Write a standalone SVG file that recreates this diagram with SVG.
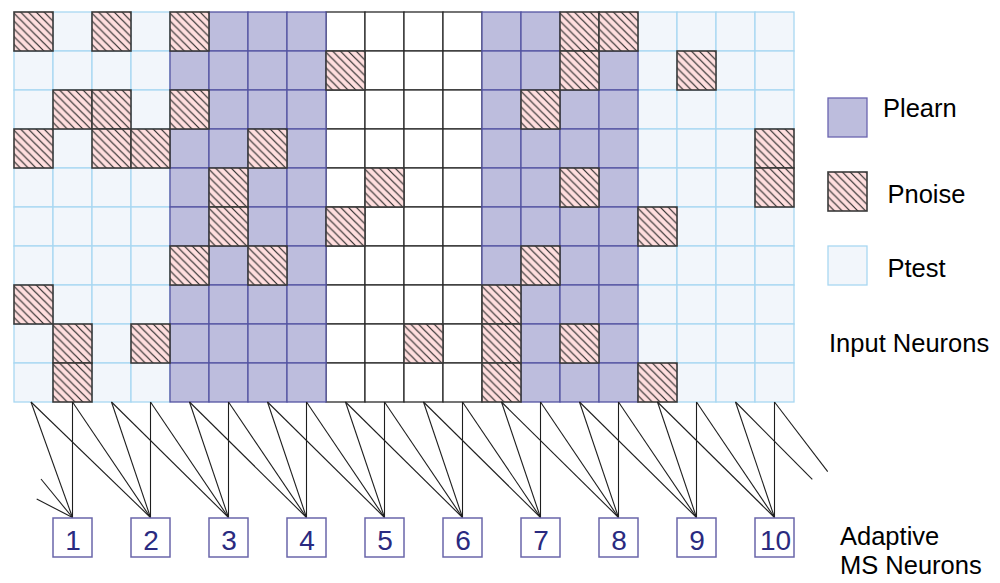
<svg xmlns="http://www.w3.org/2000/svg" xmlns:xlink="http://www.w3.org/1999/xlink" width="1000" height="583" viewBox="0 0 1000 583">
<defs>
<pattern id="hatch" patternUnits="objectBoundingBox" x="-0.033" y="0" width="0.2" height="0.2" patternContentUnits="userSpaceOnUse">
<rect x="0" y="0" width="7.8" height="7.8" fill="#ffdede"/>
<path d="M0,0 L7.8,7.8 M-1,6.8 L1,8.8 M6.8,-1 L8.8,1" stroke="#2a2a2a" stroke-width="1.2" fill="none"/>
</pattern>
</defs>
<style>
text{font-family:"Liberation Sans",Arial,sans-serif;}
.t{fill:#f2f6fb;stroke:#a8d8f2;stroke-width:1.3;}
.w{fill:#ffffff;stroke:#2a2a2a;stroke-width:1.3;}
.l{fill:#bdbddd;stroke:#5454a2;stroke-width:1.3;}
.n{fill:url(#hatch);stroke:#3a3a3a;stroke-width:1.6;}
.c line{stroke:#1e1e1e;stroke-width:1.1;}
.box{fill:#ffffff;stroke:#6a66aa;stroke-width:1.5;}
.num{font-size:28px;fill:#2a2a80;text-anchor:middle;}
.lab{font-size:25.5px;fill:#000;}
</style>
<rect width="1000" height="583" fill="#ffffff"/>
<g id="input-grid">
<g id="ptest-cells">
<rect class="t" x="53" y="12" width="39" height="39"/><rect class="t" x="131" y="12" width="39" height="39"/>
<rect class="t" x="638" y="12" width="39" height="39"/><rect class="t" x="677" y="12" width="39" height="39"/><rect class="t" x="716" y="12" width="39" height="39"/><rect class="t" x="755" y="12" width="39" height="39"/>
<rect class="t" x="14" y="51" width="39" height="39"/><rect class="t" x="53" y="51" width="39" height="39"/><rect class="t" x="92" y="51" width="39" height="39"/><rect class="t" x="131" y="51" width="39" height="39"/>
<rect class="t" x="638" y="51" width="39" height="39"/><rect class="t" x="716" y="51" width="39" height="39"/><rect class="t" x="755" y="51" width="39" height="39"/>
<rect class="t" x="14" y="90" width="39" height="39"/><rect class="t" x="131" y="90" width="39" height="39"/>
<rect class="t" x="638" y="90" width="39" height="39"/><rect class="t" x="677" y="90" width="39" height="39"/><rect class="t" x="716" y="90" width="39" height="39"/><rect class="t" x="755" y="90" width="39" height="39"/>
<rect class="t" x="53" y="129" width="39" height="39"/>
<rect class="t" x="638" y="129" width="39" height="39"/><rect class="t" x="677" y="129" width="39" height="39"/><rect class="t" x="716" y="129" width="39" height="39"/>
<rect class="t" x="14" y="168" width="39" height="39"/><rect class="t" x="53" y="168" width="39" height="39"/><rect class="t" x="92" y="168" width="39" height="39"/><rect class="t" x="131" y="168" width="39" height="39"/>
<rect class="t" x="638" y="168" width="39" height="39"/><rect class="t" x="677" y="168" width="39" height="39"/><rect class="t" x="716" y="168" width="39" height="39"/>
<rect class="t" x="14" y="207" width="39" height="39"/><rect class="t" x="53" y="207" width="39" height="39"/><rect class="t" x="92" y="207" width="39" height="39"/><rect class="t" x="131" y="207" width="39" height="39"/>
<rect class="t" x="677" y="207" width="39" height="39"/><rect class="t" x="716" y="207" width="39" height="39"/><rect class="t" x="755" y="207" width="39" height="39"/>
<rect class="t" x="14" y="246" width="39" height="39"/><rect class="t" x="53" y="246" width="39" height="39"/><rect class="t" x="92" y="246" width="39" height="39"/><rect class="t" x="131" y="246" width="39" height="39"/>
<rect class="t" x="638" y="246" width="39" height="39"/><rect class="t" x="677" y="246" width="39" height="39"/><rect class="t" x="716" y="246" width="39" height="39"/><rect class="t" x="755" y="246" width="39" height="39"/>
<rect class="t" x="53" y="285" width="39" height="39"/><rect class="t" x="92" y="285" width="39" height="39"/><rect class="t" x="131" y="285" width="39" height="39"/>
<rect class="t" x="638" y="285" width="39" height="39"/><rect class="t" x="677" y="285" width="39" height="39"/><rect class="t" x="716" y="285" width="39" height="39"/><rect class="t" x="755" y="285" width="39" height="39"/>
<rect class="t" x="14" y="324" width="39" height="39"/><rect class="t" x="92" y="324" width="39" height="39"/>
<rect class="t" x="638" y="324" width="39" height="39"/><rect class="t" x="677" y="324" width="39" height="39"/><rect class="t" x="716" y="324" width="39" height="39"/><rect class="t" x="755" y="324" width="39" height="39"/>
<rect class="t" x="14" y="363" width="39" height="39"/><rect class="t" x="92" y="363" width="39" height="39"/><rect class="t" x="131" y="363" width="39" height="39"/>
<rect class="t" x="677" y="363" width="39" height="39"/><rect class="t" x="716" y="363" width="39" height="39"/><rect class="t" x="755" y="363" width="39" height="39"/>
</g>
<g id="blank-cells">
<rect class="w" x="326" y="12" width="39" height="39"/><rect class="w" x="365" y="12" width="39" height="39"/><rect class="w" x="404" y="12" width="39" height="39"/><rect class="w" x="443" y="12" width="39" height="39"/>
<rect class="w" x="365" y="51" width="39" height="39"/><rect class="w" x="404" y="51" width="39" height="39"/><rect class="w" x="443" y="51" width="39" height="39"/>
<rect class="w" x="326" y="90" width="39" height="39"/><rect class="w" x="365" y="90" width="39" height="39"/><rect class="w" x="404" y="90" width="39" height="39"/><rect class="w" x="443" y="90" width="39" height="39"/>
<rect class="w" x="326" y="129" width="39" height="39"/><rect class="w" x="365" y="129" width="39" height="39"/><rect class="w" x="404" y="129" width="39" height="39"/><rect class="w" x="443" y="129" width="39" height="39"/>
<rect class="w" x="326" y="168" width="39" height="39"/><rect class="w" x="404" y="168" width="39" height="39"/><rect class="w" x="443" y="168" width="39" height="39"/>
<rect class="w" x="365" y="207" width="39" height="39"/><rect class="w" x="404" y="207" width="39" height="39"/><rect class="w" x="443" y="207" width="39" height="39"/>
<rect class="w" x="326" y="246" width="39" height="39"/><rect class="w" x="365" y="246" width="39" height="39"/><rect class="w" x="404" y="246" width="39" height="39"/><rect class="w" x="443" y="246" width="39" height="39"/>
<rect class="w" x="326" y="285" width="39" height="39"/><rect class="w" x="365" y="285" width="39" height="39"/><rect class="w" x="404" y="285" width="39" height="39"/><rect class="w" x="443" y="285" width="39" height="39"/>
<rect class="w" x="326" y="324" width="39" height="39"/><rect class="w" x="365" y="324" width="39" height="39"/><rect class="w" x="443" y="324" width="39" height="39"/>
<rect class="w" x="326" y="363" width="39" height="39"/><rect class="w" x="365" y="363" width="39" height="39"/><rect class="w" x="404" y="363" width="39" height="39"/><rect class="w" x="443" y="363" width="39" height="39"/>
</g>
<g id="plearn-cells">
<rect class="l" x="209" y="12" width="39" height="39"/><rect class="l" x="248" y="12" width="39" height="39"/><rect class="l" x="287" y="12" width="39" height="39"/>
<rect class="l" x="482" y="12" width="39" height="39"/><rect class="l" x="521" y="12" width="39" height="39"/>
<rect class="l" x="170" y="51" width="39" height="39"/><rect class="l" x="209" y="51" width="39" height="39"/><rect class="l" x="248" y="51" width="39" height="39"/><rect class="l" x="287" y="51" width="39" height="39"/>
<rect class="l" x="482" y="51" width="39" height="39"/><rect class="l" x="521" y="51" width="39" height="39"/><rect class="l" x="599" y="51" width="39" height="39"/>
<rect class="l" x="209" y="90" width="39" height="39"/><rect class="l" x="248" y="90" width="39" height="39"/><rect class="l" x="287" y="90" width="39" height="39"/>
<rect class="l" x="482" y="90" width="39" height="39"/><rect class="l" x="560" y="90" width="39" height="39"/><rect class="l" x="599" y="90" width="39" height="39"/>
<rect class="l" x="170" y="129" width="39" height="39"/><rect class="l" x="209" y="129" width="39" height="39"/><rect class="l" x="287" y="129" width="39" height="39"/>
<rect class="l" x="482" y="129" width="39" height="39"/><rect class="l" x="521" y="129" width="39" height="39"/><rect class="l" x="560" y="129" width="39" height="39"/><rect class="l" x="599" y="129" width="39" height="39"/>
<rect class="l" x="170" y="168" width="39" height="39"/><rect class="l" x="248" y="168" width="39" height="39"/><rect class="l" x="287" y="168" width="39" height="39"/>
<rect class="l" x="482" y="168" width="39" height="39"/><rect class="l" x="521" y="168" width="39" height="39"/><rect class="l" x="599" y="168" width="39" height="39"/>
<rect class="l" x="170" y="207" width="39" height="39"/><rect class="l" x="248" y="207" width="39" height="39"/><rect class="l" x="287" y="207" width="39" height="39"/>
<rect class="l" x="482" y="207" width="39" height="39"/><rect class="l" x="521" y="207" width="39" height="39"/><rect class="l" x="560" y="207" width="39" height="39"/><rect class="l" x="599" y="207" width="39" height="39"/>
<rect class="l" x="209" y="246" width="39" height="39"/><rect class="l" x="287" y="246" width="39" height="39"/>
<rect class="l" x="482" y="246" width="39" height="39"/><rect class="l" x="560" y="246" width="39" height="39"/><rect class="l" x="599" y="246" width="39" height="39"/>
<rect class="l" x="170" y="285" width="39" height="39"/><rect class="l" x="209" y="285" width="39" height="39"/><rect class="l" x="248" y="285" width="39" height="39"/><rect class="l" x="287" y="285" width="39" height="39"/>
<rect class="l" x="521" y="285" width="39" height="39"/><rect class="l" x="560" y="285" width="39" height="39"/><rect class="l" x="599" y="285" width="39" height="39"/>
<rect class="l" x="170" y="324" width="39" height="39"/><rect class="l" x="209" y="324" width="39" height="39"/><rect class="l" x="248" y="324" width="39" height="39"/><rect class="l" x="287" y="324" width="39" height="39"/>
<rect class="l" x="521" y="324" width="39" height="39"/><rect class="l" x="599" y="324" width="39" height="39"/>
<rect class="l" x="170" y="363" width="39" height="39"/><rect class="l" x="209" y="363" width="39" height="39"/><rect class="l" x="248" y="363" width="39" height="39"/><rect class="l" x="287" y="363" width="39" height="39"/>
<rect class="l" x="521" y="363" width="39" height="39"/><rect class="l" x="560" y="363" width="39" height="39"/><rect class="l" x="599" y="363" width="39" height="39"/>
</g>
<g id="pnoise-cells">
<rect class="n" x="14" y="12" width="39" height="39"/><rect class="n" x="92" y="12" width="39" height="39"/><rect class="n" x="170" y="12" width="39" height="39"/><rect class="n" x="560" y="12" width="39" height="39"/><rect class="n" x="599" y="12" width="39" height="39"/>
<rect class="n" x="326" y="51" width="39" height="39"/><rect class="n" x="560" y="51" width="39" height="39"/><rect class="n" x="677" y="51" width="39" height="39"/>
<rect class="n" x="53" y="90" width="39" height="39"/><rect class="n" x="92" y="90" width="39" height="39"/><rect class="n" x="170" y="90" width="39" height="39"/><rect class="n" x="521" y="90" width="39" height="39"/>
<rect class="n" x="14" y="129" width="39" height="39"/><rect class="n" x="92" y="129" width="39" height="39"/><rect class="n" x="131" y="129" width="39" height="39"/><rect class="n" x="248" y="129" width="39" height="39"/><rect class="n" x="755" y="129" width="39" height="39"/>
<rect class="n" x="209" y="168" width="39" height="39"/><rect class="n" x="365" y="168" width="39" height="39"/><rect class="n" x="560" y="168" width="39" height="39"/><rect class="n" x="755" y="168" width="39" height="39"/>
<rect class="n" x="209" y="207" width="39" height="39"/><rect class="n" x="326" y="207" width="39" height="39"/><rect class="n" x="638" y="207" width="39" height="39"/>
<rect class="n" x="170" y="246" width="39" height="39"/><rect class="n" x="248" y="246" width="39" height="39"/><rect class="n" x="521" y="246" width="39" height="39"/>
<rect class="n" x="14" y="285" width="39" height="39"/><rect class="n" x="482" y="285" width="39" height="39"/>
<rect class="n" x="53" y="324" width="39" height="39"/><rect class="n" x="131" y="324" width="39" height="39"/><rect class="n" x="404" y="324" width="39" height="39"/><rect class="n" x="482" y="324" width="39" height="39"/><rect class="n" x="560" y="324" width="39" height="39"/>
<rect class="n" x="53" y="363" width="39" height="39"/><rect class="n" x="482" y="363" width="39" height="39"/><rect class="n" x="638" y="363" width="39" height="39"/>
</g>
</g>
<g id="connectors" class="c">
<line x1="41" y1="479" x2="72.5" y2="517.5"/>
<line x1="36.7" y1="499" x2="72.5" y2="517.5"/>
<line x1="31" y1="402" x2="72.5" y2="517.5"/>
<line x1="72.5" y1="402" x2="72.5" y2="517.5"/>
<line x1="31" y1="402" x2="150.5" y2="517.5"/>
<line x1="72.5" y1="402" x2="150.5" y2="517.5"/>
<line x1="111.5" y1="402" x2="150.5" y2="517.5"/>
<line x1="150.5" y1="402" x2="150.5" y2="517.5"/>
<line x1="111.5" y1="402" x2="228.5" y2="517.5"/>
<line x1="150.5" y1="402" x2="228.5" y2="517.5"/>
<line x1="189.5" y1="402" x2="228.5" y2="517.5"/>
<line x1="228.5" y1="402" x2="228.5" y2="517.5"/>
<line x1="189.5" y1="402" x2="306.5" y2="517.5"/>
<line x1="228.5" y1="402" x2="306.5" y2="517.5"/>
<line x1="267.5" y1="402" x2="306.5" y2="517.5"/>
<line x1="306.5" y1="402" x2="306.5" y2="517.5"/>
<line x1="267.5" y1="402" x2="384.5" y2="517.5"/>
<line x1="306.5" y1="402" x2="384.5" y2="517.5"/>
<line x1="345.5" y1="402" x2="384.5" y2="517.5"/>
<line x1="384.5" y1="402" x2="384.5" y2="517.5"/>
<line x1="345.5" y1="402" x2="462.5" y2="517.5"/>
<line x1="384.5" y1="402" x2="462.5" y2="517.5"/>
<line x1="423.5" y1="402" x2="462.5" y2="517.5"/>
<line x1="462.5" y1="402" x2="462.5" y2="517.5"/>
<line x1="423.5" y1="402" x2="540.5" y2="517.5"/>
<line x1="462.5" y1="402" x2="540.5" y2="517.5"/>
<line x1="501.5" y1="402" x2="540.5" y2="517.5"/>
<line x1="540.5" y1="402" x2="540.5" y2="517.5"/>
<line x1="501.5" y1="402" x2="618.5" y2="517.5"/>
<line x1="540.5" y1="402" x2="618.5" y2="517.5"/>
<line x1="579.5" y1="402" x2="618.5" y2="517.5"/>
<line x1="618.5" y1="402" x2="618.5" y2="517.5"/>
<line x1="579.5" y1="402" x2="696.5" y2="517.5"/>
<line x1="618.5" y1="402" x2="696.5" y2="517.5"/>
<line x1="657.5" y1="402" x2="696.5" y2="517.5"/>
<line x1="696.5" y1="402" x2="696.5" y2="517.5"/>
<line x1="657.5" y1="402" x2="774.5" y2="517.5"/>
<line x1="696.5" y1="402" x2="774.5" y2="517.5"/>
<line x1="735.5" y1="402" x2="774.5" y2="517.5"/>
<line x1="774.5" y1="402" x2="774.5" y2="517.5"/>
<line x1="735.5" y1="402" x2="812.3" y2="479.3"/>
<line x1="774.5" y1="402" x2="827.7" y2="471.7"/>
</g>
<g id="neuron-1"><rect class="box" x="53" y="518" width="39" height="39"/><text class="num" x="73" y="550">1</text></g>
<g id="neuron-2"><rect class="box" x="131" y="518" width="39" height="39"/><text class="num" x="151" y="550">2</text></g>
<g id="neuron-3"><rect class="box" x="209" y="518" width="39" height="39"/><text class="num" x="229" y="550">3</text></g>
<g id="neuron-4"><rect class="box" x="287" y="518" width="39" height="39"/><text class="num" x="307" y="550">4</text></g>
<g id="neuron-5"><rect class="box" x="365" y="518" width="39" height="39"/><text class="num" x="385" y="550">5</text></g>
<g id="neuron-6"><rect class="box" x="443" y="518" width="39" height="39"/><text class="num" x="463" y="550">6</text></g>
<g id="neuron-7"><rect class="box" x="521" y="518" width="39" height="39"/><text class="num" x="541" y="550">7</text></g>
<g id="neuron-8"><rect class="box" x="599" y="518" width="39" height="39"/><text class="num" x="619" y="550">8</text></g>
<g id="neuron-9"><rect class="box" x="677" y="518" width="39" height="39"/><text class="num" x="697" y="550">9</text></g>
<g id="neuron-10"><rect class="box" x="755" y="518" width="39" height="39"/><text class="num" x="775.5" y="550">10</text></g>
<g id="legend">
<g id="legend-plearn"><rect class="l" x="828" y="98" width="39" height="39" style="stroke:#6a64b0"/><text class="lab" x="883" y="117">Plearn</text></g>
<g id="legend-pnoise"><rect class="n" x="828" y="172" width="39" height="39"/><text class="lab" x="887.5" y="203">Pnoise</text></g>
<g id="legend-ptest"><rect class="t" x="828" y="246" width="39" height="39"/><text class="lab" x="887.5" y="277">Ptest</text></g>
<text id="label-input" class="lab" x="829" y="352">Input Neurons</text>
<text id="label-adaptive" class="lab" x="840" y="545">Adaptive</text>
<text id="label-ms" class="lab" x="840" y="574">MS Neurons</text>
</g>
</svg>
